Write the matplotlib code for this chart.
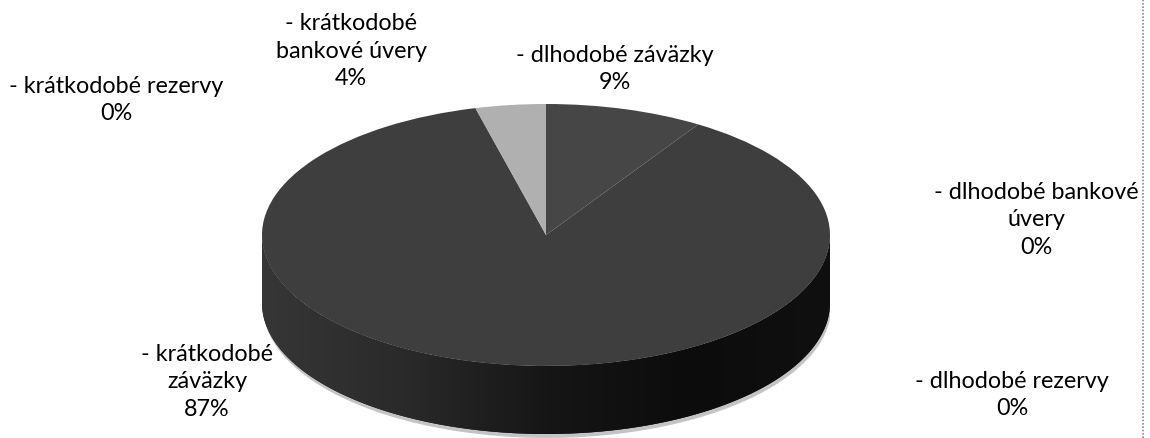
import numpy as np
import matplotlib
matplotlib.use("Agg")
import matplotlib.pyplot as plt
from matplotlib.patches import Polygon

plt.rcParams['font.family'] = ['Lato', 'DejaVu Sans']

# ---- data ----
categories = ["- dlhodobé záväzky", "- dlhodobé bankové\núvery", "- dlhodobé rezervy",
              "- krátkodobé\nzáväzky", "- krátkodobé rezervy", "- krátkodobé\nbankové úvery"]
values = [9, 0, 0, 87, 0, 4]
slice_colors = ["#464646", "#424242", "#424242", "#3e3e3e", "#3e3e3e", "#b0b0b0"]
# label anchor positions (pixel centres of each text block)
label_px = [(615, 69), (1036, 220), (1012, 395), (207, 382), (116, 100), (351, 51)]

W, H = 1150, 439
fig = plt.figure(figsize=(W / 100, H / 100), dpi=100)
fig.patch.set_facecolor("white")

# pie axes: x [-1,1] -> px 262..830 ; top face y [-1,1] -> px 367..105
x0, x1 = 262, 830
ytop, ybot = 105, 367
ry = (ybot - ytop) / 2
depth = 68 / ry
ymin = -1 - (H - ybot) / ry
ax = fig.add_axes([x0 / W, 0, (x1 - x0) / W, (H - ytop) / H])

# side band (lower half of the rim)
th = np.linspace(np.pi, 2 * np.pi, 200)
top_edge = np.column_stack([np.cos(th), np.sin(th)])
bot_edge = np.column_stack([np.cos(th[::-1]), np.sin(th[::-1]) - depth])
# soft shadow
shadow = Polygon(np.vstack([top_edge + [0.004, -0.02], bot_edge + [0.004, -0.03]]),
                 closed=True, facecolor="#c4c4c4", edgecolor="none", zorder=0)
ax.add_patch(shadow)
side = Polygon(np.vstack([top_edge, bot_edge]), closed=True,
               facecolor="#161616", edgecolor="none", zorder=1)
ax.add_patch(side)
grad = np.linspace(0, 1, 256)[None, :]
cmap = matplotlib.colors.LinearSegmentedColormap.from_list(
    "side", ["#363636", "#2a2a2a", "#161616", "#0c0c0c", "#101010"])
im = ax.imshow(grad, extent=[-1, 1, -1 - depth, 0], aspect="auto", cmap=cmap,
               zorder=1.5, interpolation="bilinear")
im.set_clip_path(side)

wedges, _ = ax.pie(values, colors=slice_colors, startangle=90, counterclock=False,
                   radius=1, center=(0, 0), wedgeprops=dict(linewidth=0))
for w in wedges:
    w.set_zorder(2)

ax.set_aspect("auto")
ax.set_xlim(-1, 1)
ax.set_ylim(ymin, 1)
ax.axis("off")

# labels
total = sum(values)
for cat, v, (px, py) in zip(categories, values, label_px):
    pct = round(100 * v / total)
    fig.text(px / W, 1 - py / H, f"{cat}\n{pct}%", ha="center", va="center",
             multialignment="center", fontsize=16.8, linespacing=1.38, color="#000000")

# right frame edge
fig.add_artist(plt.Line2D([1143 / W, 1143 / W], [0, 1], transform=fig.transFigure,
                          color="#8a8a8a", linewidth=1.2, linestyle=(0, (1, 1))))

fig.savefig("out.png", dpi=100, facecolor="white")
